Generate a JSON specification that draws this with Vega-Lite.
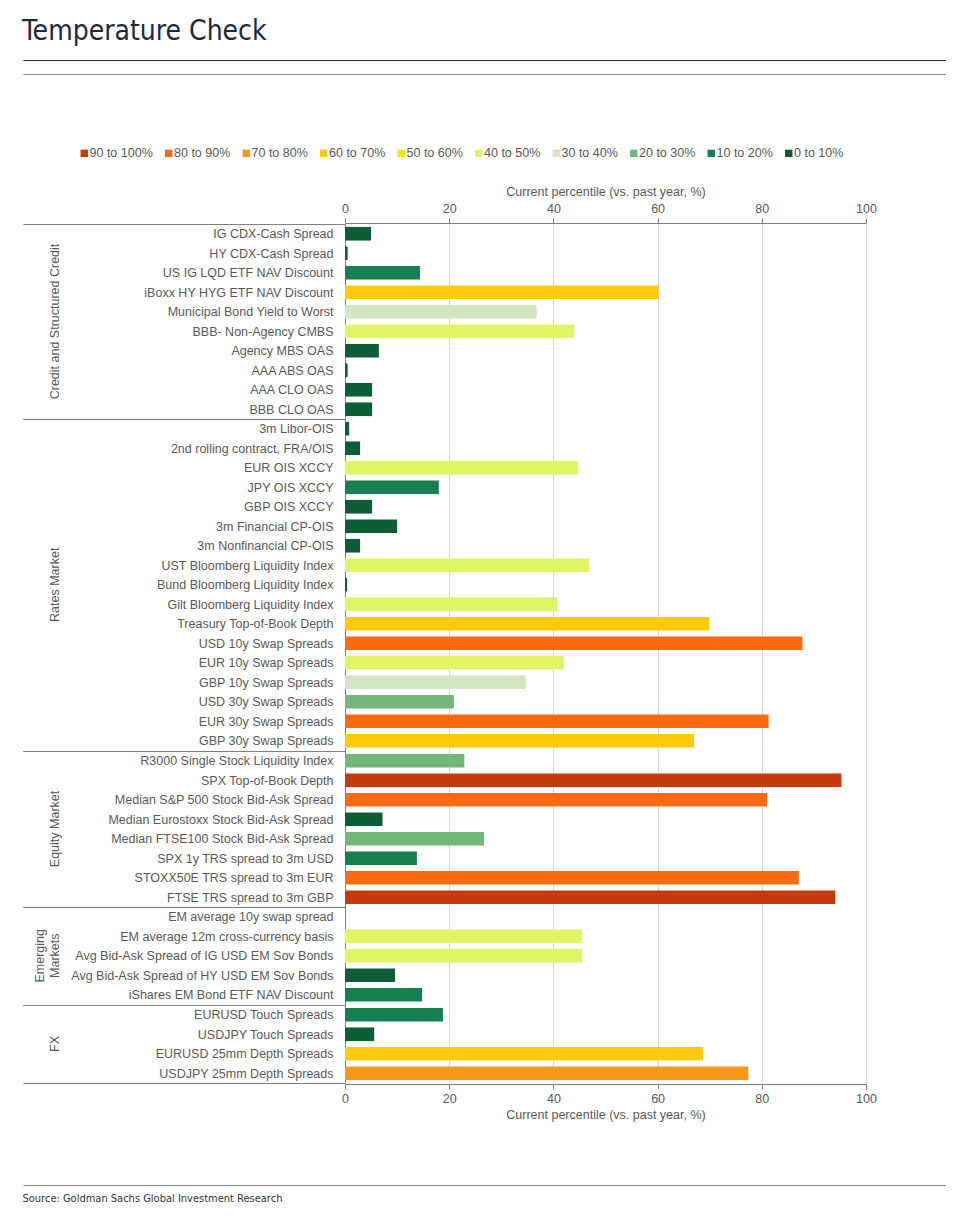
{
  "$schema": "https://vega.github.io/schema/vega-lite/v6.json",
  "background": "white",
  "padding": {"left": 22, "top": 17, "right": 14, "bottom": 5},
  "title": {"text": "Temperature Check", "anchor": "start", "frame": "bounds", "fontSize": 28, "font": "Liberation Sans Narrow, DejaVu Sans Condensed, Roboto Condensed, sans-serif", "fontWeight": "normal", "color": "#1B2A41", "offset": 14},
  "datasets": {
    "rows": [
      {"group": "Credit and Structured Credit", "item": "IG CDX-Cash Spread", "value": 5.0, "band": "0 to 10%"},
      {"group": "Credit and Structured Credit", "item": "HY CDX-Cash Spread", "value": 0.5, "band": "0 to 10%"},
      {"group": "Credit and Structured Credit", "item": "US IG LQD ETF NAV Discount", "value": 14.4, "band": "10 to 20%"},
      {"group": "Credit and Structured Credit", "item": "iBoxx HY HYG ETF NAV Discount", "value": 60.2, "band": "60 to 70%"},
      {"group": "Credit and Structured Credit", "item": "Municipal Bond Yield to Worst", "value": 36.8, "band": "30 to 40%"},
      {"group": "Credit and Structured Credit", "item": "BBB- Non-Agency CMBS", "value": 44.0, "band": "40 to 50%"},
      {"group": "Credit and Structured Credit", "item": "Agency MBS OAS", "value": 6.5, "band": "0 to 10%"},
      {"group": "Credit and Structured Credit", "item": "AAA ABS OAS", "value": 0.5, "band": "0 to 10%"},
      {"group": "Credit and Structured Credit", "item": "AAA CLO OAS", "value": 5.2, "band": "0 to 10%"},
      {"group": "Credit and Structured Credit", "item": "BBB CLO OAS", "value": 5.2, "band": "0 to 10%"},
      {"group": "Rates Market", "item": "3m Libor-OIS", "value": 0.8, "band": "0 to 10%"},
      {"group": "Rates Market", "item": "2nd rolling contract, FRA/OIS", "value": 2.9, "band": "0 to 10%"},
      {"group": "Rates Market", "item": "EUR OIS XCCY", "value": 44.7, "band": "40 to 50%"},
      {"group": "Rates Market", "item": "JPY OIS XCCY", "value": 18.0, "band": "10 to 20%"},
      {"group": "Rates Market", "item": "GBP OIS XCCY", "value": 5.2, "band": "0 to 10%"},
      {"group": "Rates Market", "item": "3m Financial CP-OIS", "value": 10.0, "band": "0 to 10%"},
      {"group": "Rates Market", "item": "3m Nonfinancial CP-OIS", "value": 2.9, "band": "0 to 10%"},
      {"group": "Rates Market", "item": "UST Bloomberg Liquidity Index", "value": 46.8, "band": "40 to 50%"},
      {"group": "Rates Market", "item": "Bund Bloomberg Liquidity Index", "value": 0.4, "band": "0 to 10%"},
      {"group": "Rates Market", "item": "Gilt Bloomberg Liquidity Index", "value": 40.8, "band": "40 to 50%"},
      {"group": "Rates Market", "item": "Treasury Top-of-Book Depth", "value": 69.9, "band": "60 to 70%"},
      {"group": "Rates Market", "item": "USD 10y Swap Spreads", "value": 87.8, "band": "80 to 90%"},
      {"group": "Rates Market", "item": "EUR 10y Swap Spreads", "value": 42.0, "band": "40 to 50%"},
      {"group": "Rates Market", "item": "GBP 10y Swap Spreads", "value": 34.7, "band": "30 to 40%"},
      {"group": "Rates Market", "item": "USD 30y Swap Spreads", "value": 20.9, "band": "20 to 30%"},
      {"group": "Rates Market", "item": "EUR 30y Swap Spreads", "value": 81.3, "band": "80 to 90%"},
      {"group": "Rates Market", "item": "GBP 30y Swap Spreads", "value": 67.0, "band": "60 to 70%"},
      {"group": "Equity Market", "item": "R3000 Single Stock Liquidity Index", "value": 22.9, "band": "20 to 30%"},
      {"group": "Equity Market", "item": "SPX Top-of-Book Depth", "value": 95.3, "band": "90 to 100%"},
      {"group": "Equity Market", "item": "Median S&P 500 Stock Bid-Ask Spread", "value": 81.0, "band": "80 to 90%"},
      {"group": "Equity Market", "item": "Median Eurostoxx Stock Bid-Ask Spread", "value": 7.2, "band": "0 to 10%"},
      {"group": "Equity Market", "item": "Median FTSE100 Stock Bid-Ask Spread", "value": 26.7, "band": "20 to 30%"},
      {"group": "Equity Market", "item": "SPX 1y TRS spread to 3m USD", "value": 13.8, "band": "10 to 20%"},
      {"group": "Equity Market", "item": "STOXX50E TRS spread to 3m EUR", "value": 87.1, "band": "80 to 90%"},
      {"group": "Equity Market", "item": "FTSE TRS spread to 3m GBP", "value": 94.1, "band": "90 to 100%"},
      {"group": "Emerging Markets", "item": "EM average 10y swap spread", "value": 0, "band": "0 to 10%"},
      {"group": "Emerging Markets", "item": "EM average 12m cross-currency basis", "value": 45.5, "band": "40 to 50%"},
      {"group": "Emerging Markets", "item": "Avg Bid-Ask Spread of IG USD EM Sov Bonds", "value": 45.5, "band": "40 to 50%"},
      {"group": "Emerging Markets", "item": "Avg Bid-Ask Spread of HY USD EM Sov Bonds", "value": 9.6, "band": "0 to 10%"},
      {"group": "Emerging Markets", "item": "iShares EM Bond ETF NAV Discount", "value": 14.8, "band": "10 to 20%"},
      {"group": "FX", "item": "EURUSD Touch Spreads", "value": 18.8, "band": "10 to 20%"},
      {"group": "FX", "item": "USDJPY Touch Spreads", "value": 5.6, "band": "0 to 10%"},
      {"group": "FX", "item": "EURUSD 25mm Depth Spreads", "value": 68.7, "band": "60 to 70%"},
      {"group": "FX", "item": "USDJPY 25mm Depth Spreads", "value": 77.4, "band": "70 to 80%"}
    ]
  },
  "spacing": 63,
  "resolve": {"legend": {"color": "independent"}},
  "vconcat": [
    {
      "spacing": 12,
      "vconcat": [
        {
          "data": {"values": []}, "mark": "point",
          "encoding": {"y": {"field": "v", "type": "quantitative", "scale": {"domain": [0, 1]}, "axis": {"values": [1], "tickSize": 322, "tickColor": "#2b2b2b", "tickWidth": 1, "labels": false, "domain": false, "grid": false, "title": null}}},
          "width": 601, "height": 1, "view": {"fill": "#2b2b2b", "stroke": null}
        },
        {
          "data": {"values": []}, "mark": "point",
          "encoding": {"y": {"field": "v", "type": "quantitative", "scale": {"domain": [0, 1]}, "axis": {"values": [1], "tickSize": 322, "tickColor": "#8a8a8a", "tickWidth": 1, "labels": false, "domain": false, "grid": false, "title": null}}},
          "width": 601, "height": 1, "view": {"fill": "#8a8a8a", "stroke": null}
        }
      ]
    },
    {
      "data": {"name": "rows"},
      "spacing": {"row": -2},
      "facet": {
        "row": {
          "field": "group", "type": "nominal", "title": null,
          "sort": ["Credit and Structured Credit", "Rates Market", "Equity Market", "Emerging Markets", "FX"],
          "header": {
            "labelAngle": -90, "labelOrient": "left", "labelAnchor": "middle",
            "labelFont": "Liberation Sans", "labelFontSize": 12.5, "labelColor": "#595959",
            "labelPadding": -45, "labelLineHeight": 15,
            "labelExpr": "datum.value == 'Emerging Markets' ? ['Emerging', 'Markets'] : datum.value"
          }
        }
      },
      "resolve": {"scale": {"y": "independent"}},
      "spec": {
        "width": 521,
        "height": {"step": 19.5},
        "encoding": {
          "y": {
            "field": "item", "type": "nominal", "sort": null,
            "scale": {"paddingInner": 0, "paddingOuter": 0},
            "axis": {
              "title": null, "labelFont": "Liberation Sans", "labelColor": "#595959",
              "labelFontSize": {"condition": {"test": "datum.extra", "value": 0}, "value": 12.5},
              "labelPadding": -310, "tickSize": 322, "tickBand": "extent", "tickColor": "#808080", "tickWidth": 1,
              "tickOpacity": {"condition": {"test": "datum.extra || datum.index < 0 || datum.index >= 1", "value": 1}, "value": 0},
              "domainColor": "#808080", "labelLimit": 400
            }
          }
        },
        "layer": [
          {
            "mark": {"type": "bar", "height": {"band": 0.7}},
            "encoding": {
              "x": {
                "field": "value", "type": "quantitative",
                "scale": {"domain": [0, 100], "nice": false},
                "axis": {
                  "orient": "bottom", "values": [0, 20, 40, 60, 80, 100],
                  "title": "Current percentile (vs. past year, %)",
                  "titleFont": "Liberation Sans", "titleFontSize": 12.5, "titleFontWeight": "normal", "titleColor": "#595959", "titlePadding": 4,
                  "labelFont": "Liberation Sans", "labelFontSize": 12.5, "labelColor": "#595959", "labelPadding": 3, "labelFlush": false,
                  "tickSize": 5, "tickColor": "#808080", "domainColor": "#808080",
                  "grid": true, "gridColor": "#d9d9d9"
                }
              },
              "color": {
                "field": "band", "type": "nominal",
                "scale": {
                  "domain": ["90 to 100%", "80 to 90%", "70 to 80%", "60 to 70%", "50 to 60%", "40 to 50%", "30 to 40%", "20 to 30%", "10 to 20%", "0 to 10%"],
                  "range": ["#C53A0E", "#FB6A10", "#F7981B", "#FFC90E", "#F0E227", "#E1F466", "#D4E5C2", "#73B87A", "#178050", "#0D5E36"]
                },
                "legend": {
                  "title": null, "orient": "none", "legendX": -276, "legendY": -86,
                  "direction": "horizontal", "columns": 10,
                  "symbolType": "square", "symbolSize": 55, "symbolStrokeWidth": 0,
                  "labelFont": "Liberation Sans", "labelFontSize": 12.5, "labelColor": "#595959",
                  "labelOffset": -1, "columnPadding": 9.5, "padding": 9
                }
              }
            }
          },
          {
            "mark": {"type": "bar", "opacity": 0},
            "encoding": {
              "x": {
                "field": "value", "type": "quantitative",
                "axis": {
                  "orient": "top", "values": [0, 20, 40, 60, 80, 100],
                  "title": "Current percentile (vs. past year, %)",
                  "titleFont": "Liberation Sans", "titleFontSize": 12.5, "titleFontWeight": "normal", "titleColor": "#595959", "titlePadding": 4,
                  "labelFont": "Liberation Sans", "labelFontSize": 12.5, "labelColor": "#595959", "labelPadding": 3, "labelFlush": false,
                  "tickSize": 5, "tickColor": "#808080", "domainColor": "#808080",
                  "grid": false
                }
              }
            }
          }
        ],
        "resolve": {"axis": {"x": "independent"}}
      }
    },
    {
      "data": {"values": []}, "mark": "point",
      "encoding": {"y": {"field": "v", "type": "quantitative", "scale": {"domain": [0, 1]}, "axis": {"values": [1], "tickSize": 322, "tickColor": "#8a8a8a", "tickWidth": 1, "labels": false, "domain": false, "grid": false, "title": null}}},
      "width": 601, "height": 1,
      "view": {"fill": "#8a8a8a", "stroke": null},
      "title": {"text": "Source: Goldman Sachs Global Investment Research", "orient": "bottom", "anchor": "start", "frame": "bounds", "fontSize": 11, "font": "Liberation Sans Narrow, DejaVu Sans Condensed, Roboto Condensed, sans-serif", "fontWeight": "normal", "color": "#333333", "offset": 7}
    }
  ],
  "config": {"view": {"stroke": null}}
}
